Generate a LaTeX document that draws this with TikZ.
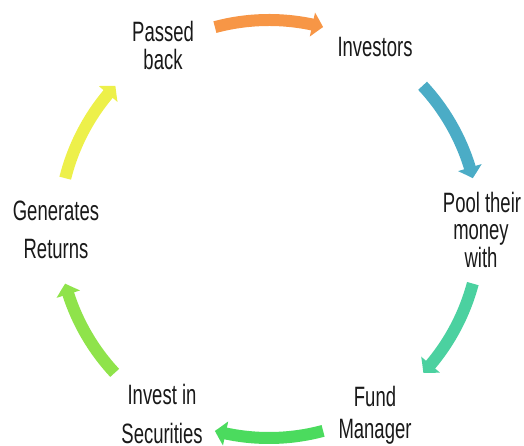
\documentclass[tikz,border=0pt]{standalone}
\usepackage{fontspec}
\setmainfont{Liberation Sans}[FakeStretch=0.66]
\usetikzlibrary{arrows.meta,bending}
\definecolor{cOrange}{HTML}{F79646}
\definecolor{cBlue}{HTML}{4BACC6}
\definecolor{cTeal}{HTML}{4BD1A0}
\definecolor{cGreen}{HTML}{4BDB5E}
\definecolor{cLime}{HTML}{8FE34B}
\definecolor{cYellow}{HTML}{EDF04A}
\begin{document}
\begin{tikzpicture}[x=1pt,y=1pt,
  lbl/.style={font=\fontsize{28}{30}\selectfont, anchor=base, inner sep=0pt, text=black!90},
  cyc/.style={line width=12pt, -{Triangle[width=24pt,length=11pt,bend]}}]
\useasboundingbox (0,0) rectangle (524,446);
\coordinate (C) at (269,217);
% labels (baselines)
\node[lbl] (pb1) at (163,404) {Passed};
\node[lbl] (pb2) at (163,376) {back};
\node[lbl] (inv) at (375,389) {Investors};
\node[lbl] (pl1) at (482,233) {Pool their};
\node[lbl] (pl2) at (481,206) {money};
\node[lbl] (pl3) at (481,178) {with};
\node[lbl] (fm1) at (375,39) {Fund};
\node[lbl] (fm2) at (375,7) {Manager};
\node[lbl] (is1) at (162,41) {Invest in};
\node[lbl] (is2) at (162,2) {Securities};
\node[lbl] (gr1) at (56,225) {Generates};
\node[lbl] (gr2) at (56,187) {Returns};
% arrows
\draw[cyc, cOrange] ([shift={(105:209)}]C) arc[start angle=105, end angle=75, radius=209];
\draw[cyc, cBlue] ([shift={(43:210)}]C) arc[start angle=43, end angle=14, radius=210];
\draw[cyc, cTeal] ([shift={(-15:211)}]C) arc[start angle=-15, end angle=-43, radius=211];
\draw[cyc, cGreen] ([shift={(-75:209)}]C) arc[start angle=-75, end angle=-105, radius=209];
\draw[cyc, cLime] ([shift={(223:211)}]C) arc[start angle=223, end angle=195, radius=211];
\draw[cyc, cYellow] ([shift={(166:210)}]C) arc[start angle=166, end angle=137, radius=210];
\end{tikzpicture}
\end{document}
